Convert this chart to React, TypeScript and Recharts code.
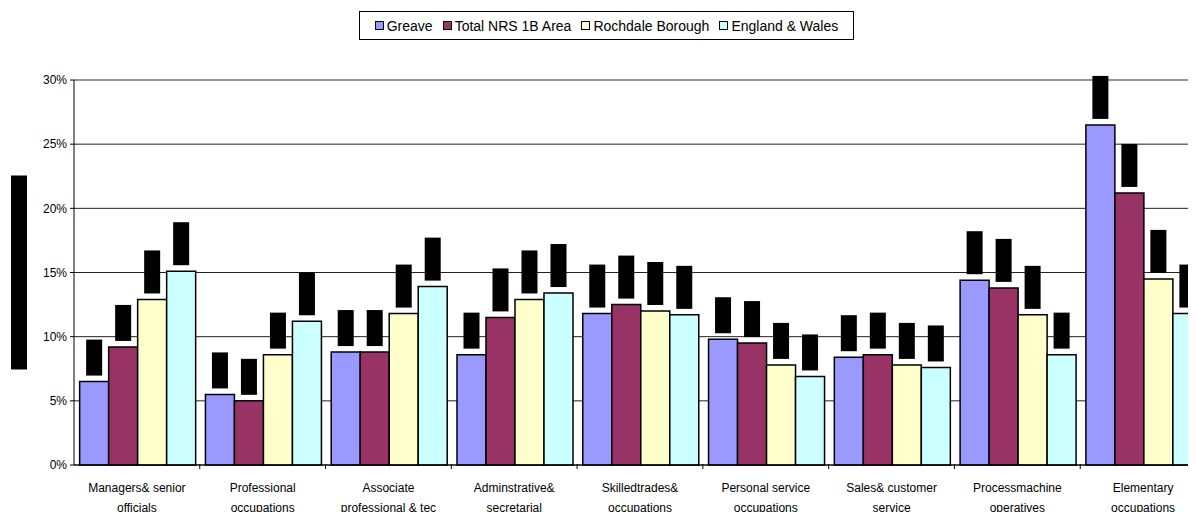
import { BarChart, Bar, XAxis, YAxis, CartesianGrid, LabelList, ReferenceLine } from "recharts"

const categories = [
  ["Managers& senior", "officials"],
  ["Professional", "occupations"],
  ["Associate", "professional & tec"],
  ["Adminstrative&", "secretarial"],
  ["Skilledtrades&", "occupations"],
  ["Personal service", "occupations"],
  ["Sales& customer", "service"],
  ["Processmachine", "operatives"],
  ["Elementary", "occupations"],
]

const greave = [6.5, 5.5, 8.8, 8.6, 11.8, 9.8, 8.4, 14.4, 26.5]
const totalNrs = [9.2, 5.0, 8.8, 11.5, 12.5, 9.5, 8.6, 13.8, 21.2]
const rochdale = [12.9, 8.6, 11.8, 12.9, 12.0, 7.8, 7.8, 11.7, 14.5]
const englandWales = [15.1, 11.2, 13.9, 13.4, 11.7, 6.9, 7.6, 8.6, 11.8]

const yTicks = [0, 5, 10, 15, 20, 25, 30]

const series = [
  { key: "greave", name: "Greave", color: "#9999FF", values: greave },
  { key: "total", name: "Total NRS 1B Area", color: "#993366", values: totalNrs },
  { key: "rochdale", name: "Rochdale Borough", color: "#FFFFCC", values: rochdale },
  { key: "ew", name: "England & Wales", color: "#CCFFFF", values: englandWales },
]

const data = categories.map((c, i) => {
  const row: Record<string, any> = { name: c.join(" "), lines: c }
  series.forEach((s) => (row[s.key] = s.values[i]))
  return row
})

const FONT = '"Liberation Sans", Arial, sans-serif'

// labels in the original are blacked out, so draw a black box where the text would sit
function RedactedLabel(props: any) {
  const { x, y, width, value } = props
  const text = `${Number(value).toFixed(1)}%`
  const h = 8 + 7 * text.length
  return <rect x={x + width / 2 - 8} y={y - 6 - h} width={16} height={h} fill="#000" />
}

function CategoryTick(props: any) {
  const { x, y, payload } = props
  const lines = data[payload.index]?.lines ?? [payload.value]
  const half = payload.offset || 62.85
  return (
    <g>
      <line x1={x + half} x2={x + half} y1={y - 6} y2={y - 1} stroke="#000" />
      <text x={x} y={y} textAnchor="middle" fontSize={12} fontFamily={FONT} fill="#000">
        <tspan x={x} dy={21.5}>{lines[0]}</tspan>
        {lines[1] && <tspan x={x} dy={20}>{lines[1]}</tspan>}
      </text>
    </g>
  )
}

function YLabel(props: any) {
  const { viewBox } = props
  return <rect x={viewBox.x + 3} y={viewBox.y + viewBox.height / 2 - 97} width={16} height={194} fill="#000" />
}

export default function App() {
  return (
    <div style={{ position: "relative", width: 1188, height: 504, overflow: "hidden", fontFamily: FONT }}>
      <div
        style={{
          position: "absolute",
          left: 351,
          top: 3,
          width: 493,
          height: 27,
          border: "1px solid #000",
          display: "flex",
          alignItems: "center",
          justifyContent: "center",
          gap: 10,
          fontSize: 14,
          background: "#fff",
          zIndex: 2,
        }}
      >
        {series.map((s) => (
          <span key={s.key} style={{ display: "flex", alignItems: "center", gap: 3 }}>
            <span style={{ width: 7, height: 7, background: s.color, border: "1.5px solid #000", display: "inline-block" }} />
            {s.name}
          </span>
        ))}
      </div>
      <BarChart
        width={1240}
        height={520}
        data={data}
        margin={{ top: 72, right: 42, bottom: 0, left: 0 }}
        barCategoryGap="4.5%"
        barGap={0}
      >
        <CartesianGrid vertical={false} stroke="#222" />
        <YAxis
          width={66}
          domain={[0, 30]}
          ticks={yTicks}
          tickFormatter={(v) => `${v}%`}
          tick={{ fontSize: 12, fontFamily: FONT, fill: "#000" }}
          tickSize={4}
          tickMargin={3}
          axisLine={{ stroke: "#000" }}
          tickLine={{ stroke: "#000" }}
          label={{ content: YLabel }}
        />
        <XAxis
          dataKey="name"
          height={63}
          interval={0}
          tick={<CategoryTick />}
          tickLine={false}
          tickSize={5}
          tickMargin={0}
          axisLine={{ stroke: "#000" }}
        />
        <ReferenceLine y={30} stroke="#999" />
        {series.map((s) => (
          <Bar key={s.key} dataKey={s.key} name={s.name} fill={s.color} stroke="#000" strokeWidth={1.5} isAnimationActive={false}>
            <LabelList dataKey={s.key} content={RedactedLabel} />
          </Bar>
        ))}
      </BarChart>
    </div>
  )
}
